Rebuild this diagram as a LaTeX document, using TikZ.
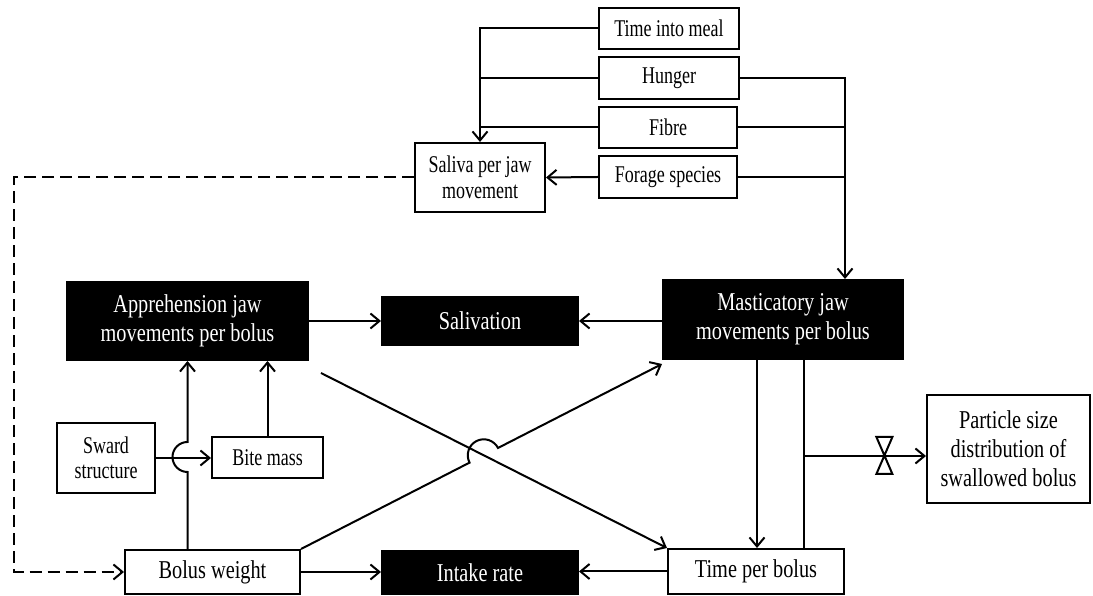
\documentclass[tikz,border=0pt]{standalone}
\usepackage{fontspec}
\setmainfont[FakeStretch=0.79]{Liberation Serif}
\newfontfamily\smallserif[FakeStretch=0.75]{Liberation Serif}
\usetikzlibrary{arrows.meta,calc}
\begin{document}
\begin{tikzpicture}[x=1pt,y=1pt,
  wbox/.style={draw,line width=2pt,inner sep=0pt,align=center,font=\smallserif\fontsize{24}{25.5}\selectfont},
  bigwbox/.style={wbox,font=\rmfamily\fontsize{25.7}{29}\selectfont},
  blk/.style={bigwbox,fill=black,text=white},
  arr/.style={-{Straight Barb[length=9pt,width=15pt]}},
  conn/.style={line width=2pt}]
\useasboundingbox (0,0) rectangle (1093,596);
% nodes
\node[wbox,minimum width=140pt,minimum height=41pt] (time) at (669,567.5) {Time into meal};
\node[wbox,minimum width=140pt,minimum height=42pt] (hunger) at (669,518) {Hunger};
\node[wbox,minimum width=138pt,minimum height=41pt] (fibre) at (668,468.5) {Fibre};
\node[wbox,minimum width=138pt,minimum height=42pt] (forage) at (668,419) {Forage species};
\node[wbox,minimum width=130pt,minimum height=69pt] (saliva) at (480,418.5) {Saliva per jaw\\movement};
\node[blk,minimum width=241pt,minimum height=78pt] (appr) at (187.5,275) {Apprehension jaw\\movements per bolus};
\node[blk,minimum width=196pt,minimum height=48pt] (saliv) at (480,275) {Salivation};
\node[blk,minimum width=240pt,minimum height=79pt] (mast) at (783,276.5) {Masticatory jaw\\movements per bolus};
\node[wbox,minimum width=98pt,minimum height=70pt] (sward) at (106,138) {Sward\\structure};
\node[wbox,minimum width=111pt,minimum height=41pt] (bite) at (267.5,138) {Bite mass};
\node[bigwbox,minimum width=163pt,minimum height=108pt] (part) at (1008.5,147) {Particle size\\distribution of\\swallowed bolus};
\node[bigwbox,minimum width=175pt,minimum height=44pt] (bolus) at (212.5,24) {Bolus weight};
\node[blk,minimum width=196pt,minimum height=43pt] (intake) at (480,23.5) {Intake rate};
\node[bigwbox,minimum width=176pt,minimum height=45pt] (timeb) at (756,24.5) {Time per bolus};
% top connectors
\draw[conn,arr] (time.west) -| (saliva.north);
\draw[conn] (hunger.west) -- (hunger.west -| saliva.north);
\draw[conn] (fibre.west) -- (fibre.west -| saliva.north);
\draw[conn,arr] (forage.west) -- (saliva.east);
\coordinate (mtop) at ([xshift=62pt]mast.north);
\draw[conn,arr] (hunger.east) -| (mtop);
\draw[conn] (fibre.east) -- (fibre.east -| mtop);
\draw[conn] (forage.east) -- (forage.east -| mtop);
\draw[conn,dash pattern=on 12pt off 6pt,arr] (saliva.west) -- ++(-400,0) |- (bolus.west);
% middle
\draw[conn,arr] (appr.east) -- (saliv.west);
\draw[conn,arr] (saliv.east -| mast.west) -- (saliv.east);
\draw[conn,arr] (sward.east) -- (bite.west);
\draw[conn,arr] (bite.north) -- (bite.north |- appr.south);
\draw[conn,arr] ([xshift=-25pt]bolus.north) -- ([xshift=-25pt,yshift=77pt]bolus.north)
   arc[start angle=270,end angle=90,radius=15pt] -- (appr.south);
% diagonals
\coordinate (aS) at ([xshift=12pt,yshift=-12pt]appr.south east);
\coordinate (mT) at ([yshift=-4pt]mast.south west);
\coordinate (X) at (intersection of aS--timeb.north west and bolus.north east--mT);
\draw[conn,arr] (aS) -- (timeb.north west);
\draw[conn,arr] (bolus.north east) -- ($(X)!16pt!(bolus.north east)$)
   arc[start angle=207.25,end angle=27.25,radius=16pt] -- (mT);
% masticatory down
\draw[conn,arr] ([xshift=-26pt]mast.south) -- ([xshift=-26pt]mast.south |- timeb.north);
\draw[conn] ([xshift=21pt]mast.south) -- ([xshift=21pt]mast.south |- timeb.north);
\coordinate (pw) at ([yshift=-7pt]part.west);
\coordinate (br) at ([xshift=21pt]mast.south |- pw);
\draw[conn,arr] (br) -- (pw);
\coordinate (valve) at ($(br)!0.659!(pw)$);
\draw[conn,fill=white] ([shift={(-8,19)}]valve) -- ([shift={(8,19)}]valve) -- ([shift={(-8,-18)}]valve) -- ([shift={(8,-18)}]valve) -- cycle;
% bottom
\draw[conn,arr] (bolus.east) -- (bolus.east -| intake.west);
\draw[conn,arr] (timeb.west) -- (timeb.west -| intake.east);
\end{tikzpicture}
\end{document}
